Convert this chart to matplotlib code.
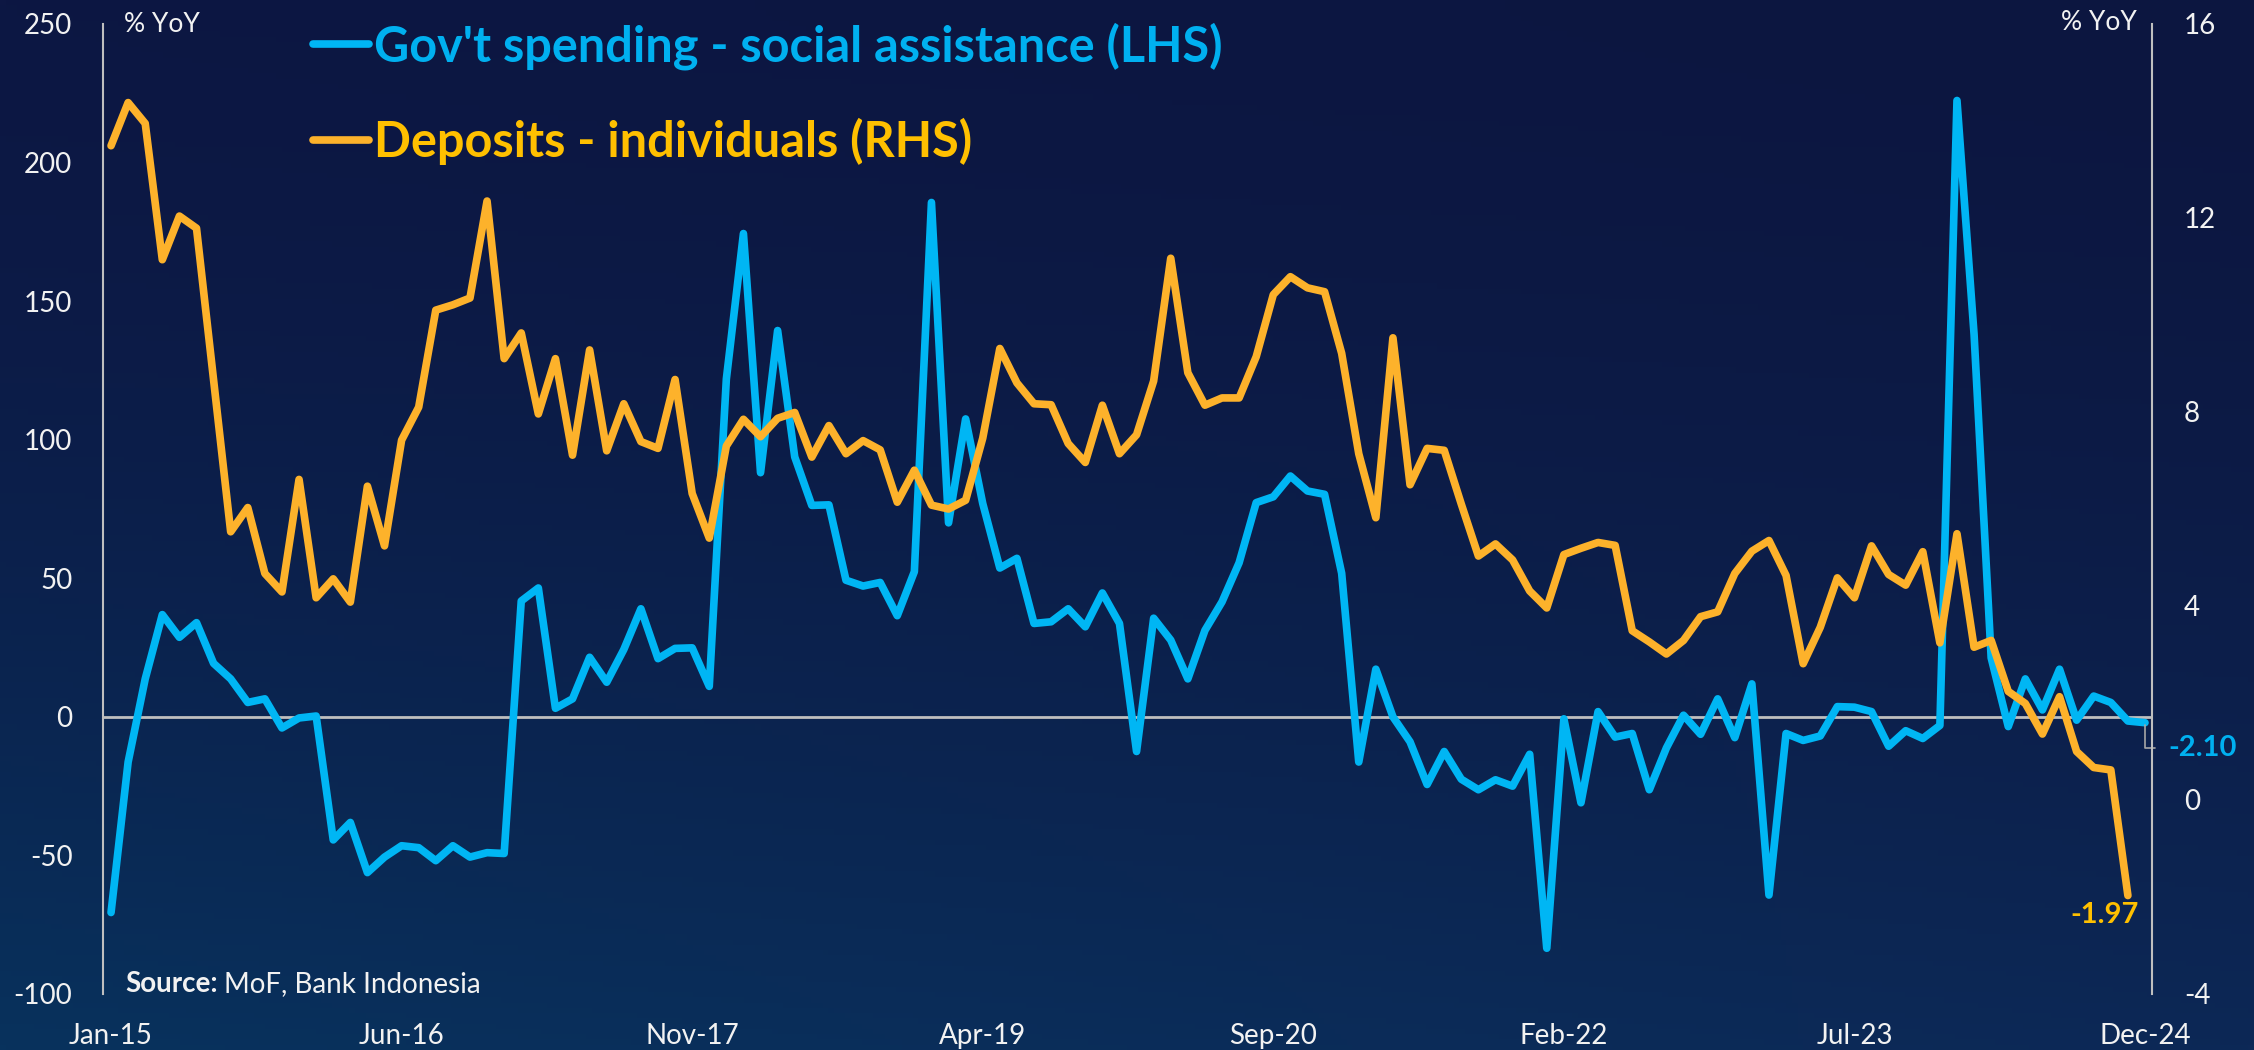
import numpy as np
import matplotlib
matplotlib.use("Agg")
import matplotlib.pyplot as plt

plt.rcParams['font.family'] = ['Lato', 'DejaVu Sans']
plt.rcParams['axes.unicode_minus'] = False

# monthly series, Jan-15 .. Dec-24
gov_spending = [
    -70.6, -16.3, 13.7, 36.9, 28.7, 34.0, 19.3, 13.7, 5.2, 6.5, -4.0, -0.4,
    0.3, -44.4, -38.1, -56.2, -50.6, -46.5, -47.2, -51.9, -46.5, -50.6, -49.0, -49.3,
    41.8, 46.5, 3.1, 6.5, 21.5, 12.5, 24.3, 39.0, 21.0, 24.7, 24.9, 11.0,
    121.9, 174.4, 88.1, 139.4, 93.8, 76.3, 76.5, 49.3, 47.2, 48.5, 36.5, 52.4,
    185.6, 70.0, 107.5, 77.0, 53.7, 57.2, 33.7, 34.3, 39.0, 32.5, 44.7, 33.7,
    -12.5, 35.6, 27.7, 13.7, 31.2, 41.5, 55.6, 77.3, 79.4, 86.9, 81.5, 80.3,
    51.8, -16.3, 17.2, 0.0, -9.0, -24.4, -12.5, -22.5, -26.3, -22.7, -25.0, -13.5,
    -83.5, -0.7, -31.0, 1.9, -7.3, -6.0, -26.3, -11.2, 0.6, -6.3, 6.5, -7.5,
    11.9, -64.3, -6.0, -8.5, -6.9, 3.7, 3.5, 1.9, -10.6, -5.0, -7.8, -3.1,
    222.4, 138.0, 21.3, -3.5, 13.7, 2.5, 17.2, -1.2, 7.5, 5.2, -1.5, -2.10,
]

# deposits stop at Nov-24
deposits = [
    13.49, 14.38, 13.95, 11.14, 12.04, 11.79, 8.66, 5.53, 6.03, 4.67, 4.29, 6.61,
    4.17, 4.56, 4.08, 6.47, 5.24, 7.42, 8.10, 10.10, 10.21, 10.35, 12.35, 9.10,
    9.63, 7.96, 9.10, 7.11, 9.28, 7.20, 8.17, 7.39, 7.25, 8.67, 6.32, 5.40,
    7.30, 7.85, 7.49, 7.87, 7.99, 7.07, 7.72, 7.14, 7.41, 7.22, 6.14, 6.80,
    6.08, 6.00, 6.18, 7.46, 9.31, 8.60, 8.17, 8.15, 7.35, 6.96, 8.14, 7.14,
    7.53, 8.64, 11.17, 8.81, 8.14, 8.29, 8.29, 9.14, 10.42, 10.79, 10.56, 10.48,
    9.21, 7.14, 5.82, 9.53, 6.50, 7.25, 7.21, 6.10, 5.03, 5.28, 4.95, 4.31,
    3.96, 5.06, 5.19, 5.31, 5.25, 3.49, 3.26, 3.01, 3.29, 3.78, 3.88, 4.67,
    5.13, 5.35, 4.63, 2.81, 3.56, 4.58, 4.17, 5.24, 4.65, 4.43, 5.12, 3.24,
    5.49, 3.15, 3.29, 2.24, 1.99, 1.36, 2.13, 1.00, 0.67, 0.62, -1.97,
]

tick_pos = [0, 17, 34, 51, 68, 85, 102, 119]
tick_labels = ['Jan-15', 'Jun-16', 'Nov-17', 'Apr-19', 'Sep-20', 'Feb-22', 'Jul-23', 'Dec-24']
lhs_ticks = [-100, -50, 0, 50, 100, 150, 200, 250]
rhs_ticks = [-4, 0, 4, 8, 12, 16]

BLUE = '#00B6F4'
BLUE_TXT = '#00B0F0'
ORANGE = '#FDB22B'
ORANGE_TXT = '#FFC000'
GRID = '#BFBFBF'
WHITE = '#F2F2F2'

fig = plt.figure(figsize=(22.54, 10.5), dpi=100)

# navy background, lighter towards the bottom left
bg = fig.add_axes([0, 0, 1, 1], zorder=-10)
ny, nx = 200, 400
ty = np.linspace(0, 1, ny)[:, None] ** 1.6
tx = np.linspace(0, 1, nx)[None, :]
tl, tr = np.array([13, 23, 67]), np.array([12, 22, 64])
bl, br = np.array([8, 50, 93]), np.array([13, 40, 86])
top = tl[None, None, :] * (1 - tx[..., None]) + tr[None, None, :] * tx[..., None]
bot = bl[None, None, :] * (1 - tx[..., None]) + br[None, None, :] * tx[..., None]
grad = (top * (1 - ty[..., None]) + bot * ty[..., None]) / 255.0
bg.imshow(grad, aspect='auto', extent=[0, 1, 0, 1], origin='upper')
bg.axis('off')

ax = fig.add_axes([103 / 2254, 56 / 1050, (2152 - 103) / 2254, (1026 - 56) / 1050])
ax.patch.set_alpha(0)
ax2 = ax.twinx()
ax2.patch.set_alpha(0)

x_gov = np.arange(len(gov_spending))
x_dep = np.arange(len(deposits))

ax.axhline(0, color=GRID, lw=2, zorder=1)
l1, = ax.plot(x_gov, gov_spending, color=BLUE, lw=5.5, solid_joinstyle='round',
              solid_capstyle='round', zorder=3, label="Gov't spending - social assistance (LHS)")
l2, = ax2.plot(x_dep, deposits, color=ORANGE, lw=5.5, solid_joinstyle='round',
               solid_capstyle='round', zorder=3, label='Deposits - individuals (RHS)')

ax.set_xlim(-0.47, 119.41)
ax.set_ylim(-100, 250)
ax2.set_ylim(-4, 16)
ax.set_yticks(lhs_ticks)
ax2.set_yticks(rhs_ticks)
ax.set_xticks(tick_pos)
ax.set_xticklabels(tick_labels)

for a in (ax, ax2):
    for side in ('top', 'bottom'):
        a.spines[side].set_visible(False)
    a.spines['left'].set_color(GRID)
    a.spines['right'].set_color(GRID)
    a.spines['left'].set_linewidth(1.5)
    a.spines['right'].set_linewidth(1.5)
ax.spines['right'].set_visible(False)
ax2.spines['left'].set_visible(False)

ax.tick_params(axis='y', length=0, pad=22, labelsize=20, labelcolor=WHITE)
ax.tick_params(axis='x', length=0, pad=21, labelsize=20, labelcolor=WHITE)
ax2.tick_params(axis='y', length=0, pad=23, labelsize=20, labelcolor=WHITE)

fig.text(124 / 2254, 1 - 24 / 1050, '% YoY', color=WHITE, fontsize=19, ha='left', va='center')
fig.text(2137 / 2254, 1 - 22 / 1050, '% YoY', color=WHITE, fontsize=19, ha='right', va='center')

leg = ax.legend(handles=[l1, l2], loc='upper left', bbox_to_anchor=(313 / 2254, 1 - 22 / 1050),
                bbox_transform=fig.transFigure, frameon=False, fontsize=35,
                handlelength=1.15, handletextpad=0.1, labelspacing=1.0,
                borderpad=0, borderaxespad=0)
for txt, c in zip(leg.get_texts(), (BLUE_TXT, ORANGE_TXT)):
    txt.set_color(c)
    txt.set_fontweight('bold')

# end-of-series values
ax.annotate('-2.10', xy=(x_gov[-1], gov_spending[-1]), xytext=(17, -18),
            textcoords='offset points', ha='left', va='center', fontsize=21,
            fontweight='bold', color=BLUE_TXT, annotation_clip=False,
            arrowprops=dict(arrowstyle='-', color='#A6A6A6', lw=1.2,
                            connectionstyle='angle,angleA=0,angleB=90',
                            shrinkA=8, shrinkB=2))
ax2.annotate('-1.97', xy=(x_dep[-1], deposits[-1]), xytext=(-17, -14),
             textcoords='offset points', ha='center', va='center', fontsize=21,
             fontweight='bold', color=ORANGE_TXT)

src = fig.text(125 / 2254, 1 - 984 / 1050, 'Source:', color=WHITE, fontsize=20,
               fontweight='bold', ha='left', va='center')
fig.canvas.draw()
bb = src.get_window_extent(fig.canvas.get_renderer())
fig.text(bb.x1 / 2254 + 6 / 2254, 1 - 984 / 1050, 'MoF, Bank Indonesia', color=WHITE,
         fontsize=20, ha='left', va='center')

fig.savefig('out.png', dpi=100)
